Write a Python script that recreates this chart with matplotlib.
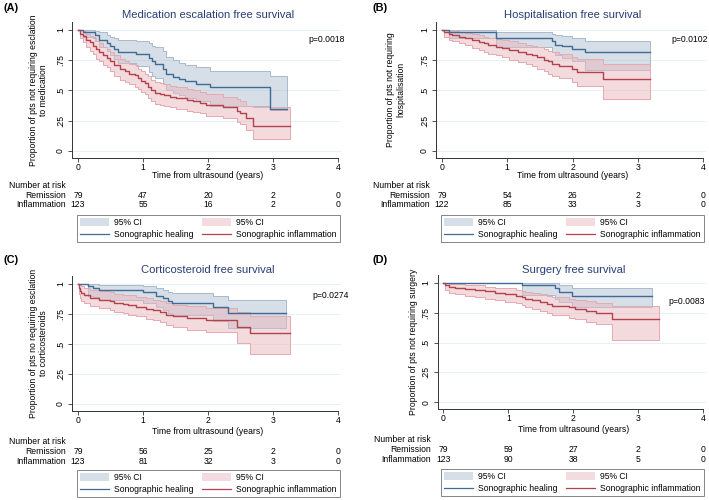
import matplotlib.pyplot as plt
import matplotlib.transforms as mtransforms
from matplotlib.patches import Patch
from matplotlib.lines import Line2D
from matplotlib.colors import to_rgba

plt.rcParams['font.family'] = ['Liberation Sans', 'DejaVu Sans']

W, H = 709, 500

# ---- Panel A: medication escalation ----
A_heal_t = [0, 0.08, 0.26, 0.33, 0.44, 0.49, 0.56, 0.62, 0.90, 1.10, 1.14, 1.18, 1.31, 1.36, 1.46, 1.56, 1.64, 1.82, 2.03, 2.95]
A_heal_s = [1, 0.98, 0.955, 0.92, 0.895, 0.865, 0.84, 0.82, 0.80, 0.765, 0.74, 0.72, 0.68, 0.64, 0.615, 0.595, 0.575, 0.555, 0.53, 0.345]
A_heal_lo = [1, 0.94, 0.91, 0.86, 0.83, 0.79, 0.76, 0.73, 0.70, 0.65, 0.62, 0.60, 0.55, 0.50, 0.48, 0.46, 0.44, 0.41, 0.37, 0.34]
A_heal_hi = [1, 1, 0.995, 0.98, 0.96, 0.945, 0.93, 0.92, 0.91, 0.89, 0.87, 0.86, 0.83, 0.78, 0.75, 0.73, 0.71, 0.69, 0.66, 0.62]
A_heal_end = 3.21
A_infl_t = [0, 0.03, 0.08, 0.13, 0.18, 0.23, 0.28, 0.33, 0.38, 0.44, 0.49, 0.56, 0.64, 0.72, 0.79, 0.87, 0.92, 0.97, 1.03, 1.08,
            1.13, 1.18, 1.26, 1.33, 1.41, 1.51, 1.67, 1.77, 1.87, 1.97, 2.23, 2.44, 2.49, 2.59, 2.69]
A_infl_s = [1, 0.97, 0.95, 0.92, 0.90, 0.87, 0.84, 0.82, 0.79, 0.77, 0.74, 0.71, 0.68, 0.66, 0.64, 0.625, 0.60, 0.58, 0.56, 0.53,
            0.50, 0.48, 0.47, 0.46, 0.45, 0.44, 0.42, 0.41, 0.40, 0.38, 0.36, 0.33, 0.31, 0.27, 0.21]
A_infl_lo = [1, 0.93, 0.90, 0.86, 0.83, 0.80, 0.76, 0.74, 0.71, 0.69, 0.66, 0.62, 0.59, 0.57, 0.55, 0.53, 0.51, 0.49, 0.47, 0.44,
             0.41, 0.39, 0.38, 0.37, 0.36, 0.35, 0.33, 0.32, 0.31, 0.29, 0.27, 0.24, 0.22, 0.17, 0.10]
A_infl_hi = [1, 1, 0.99, 0.97, 0.95, 0.93, 0.91, 0.89, 0.86, 0.84, 0.82, 0.79, 0.76, 0.74, 0.72, 0.71, 0.68, 0.66, 0.64, 0.62,
             0.59, 0.57, 0.56, 0.55, 0.54, 0.53, 0.51, 0.50, 0.49, 0.47, 0.45, 0.43, 0.41, 0.37, 0.36]
A_infl_end = 3.26
A_risk_rem = [79, 47, 20, 2, 0]
A_risk_infl = [123, 55, 16, 2, 0]

# ---- Panel B: hospitalisation ----
B_heal_t = [0, 0.10, 0.82, 1.68, 1.73, 1.84, 1.99, 2.19]
B_heal_s = [1, 0.985, 0.93, 0.905, 0.88, 0.865, 0.845, 0.815]
B_heal_lo = [1, 0.93, 0.86, 0.82, 0.79, 0.77, 0.74, 0.67]
B_heal_hi = [1, 1, 0.98, 0.97, 0.96, 0.95, 0.935, 0.91]
B_heal_end = 3.19
B_infl_t = [0, 0.03, 0.10, 0.15, 0.26, 0.36, 0.46, 0.56, 0.64, 0.71, 0.82, 0.92, 1.02, 1.17, 1.28, 1.38, 1.45, 1.56, 1.63, 1.68,
            1.79, 1.99, 2.07, 2.47]
B_infl_s = [1, 0.98, 0.965, 0.955, 0.945, 0.93, 0.915, 0.90, 0.89, 0.875, 0.86, 0.85, 0.835, 0.82, 0.805, 0.79, 0.775, 0.755, 0.74, 0.72,
            0.705, 0.68, 0.655, 0.595]
B_infl_lo = [1, 0.94, 0.92, 0.905, 0.89, 0.875, 0.855, 0.835, 0.82, 0.805, 0.79, 0.775, 0.755, 0.735, 0.72, 0.70, 0.68, 0.66, 0.64, 0.62,
             0.60, 0.57, 0.54, 0.43]
B_infl_hi = [1, 1, 0.995, 0.99, 0.985, 0.975, 0.965, 0.955, 0.945, 0.935, 0.925, 0.915, 0.905, 0.895, 0.88, 0.87, 0.86, 0.845, 0.83, 0.815,
             0.80, 0.78, 0.76, 0.72]
B_infl_end = 3.19
B_risk_rem = [79, 54, 26, 2, 0]
B_risk_infl = [122, 85, 33, 3, 0]

# ---- Panel C: corticosteroids ----
C_heal_t = [0, 0.15, 0.23, 0.33, 1.00, 1.20, 1.31, 1.38, 1.44, 2.08, 2.31]
C_heal_s = [1, 0.985, 0.97, 0.95, 0.93, 0.90, 0.88, 0.86, 0.845, 0.805, 0.76]
C_heal_lo = [1, 0.90, 0.89, 0.87, 0.84, 0.81, 0.78, 0.76, 0.74, 0.69, 0.63]
C_heal_hi = [1, 1, 1, 0.99, 0.98, 0.965, 0.95, 0.935, 0.925, 0.90, 0.87]
C_heal_end = 3.20
C_infl_t = [0, 0.01, 0.03, 0.05, 0.10, 0.18, 0.33, 0.49, 0.56, 0.69, 0.77, 0.90, 1.05, 1.15, 1.26, 1.36, 1.46, 1.67, 1.97, 2.44, 2.64]
C_infl_s = [1, 0.97, 0.94, 0.925, 0.905, 0.885, 0.87, 0.86, 0.845, 0.835, 0.825, 0.81, 0.795, 0.785, 0.765, 0.745, 0.73, 0.715, 0.70, 0.645, 0.59]
C_infl_lo = [1, 0.92, 0.88, 0.86, 0.84, 0.82, 0.80, 0.785, 0.77, 0.755, 0.745, 0.73, 0.71, 0.70, 0.68, 0.66, 0.64, 0.62, 0.60, 0.51, 0.42]
C_infl_hi = [1, 1, 0.99, 0.98, 0.965, 0.95, 0.94, 0.93, 0.92, 0.91, 0.905, 0.89, 0.88, 0.87, 0.855, 0.84, 0.825, 0.815, 0.80, 0.77, 0.73]
C_infl_end = 3.26
C_risk_rem = [79, 56, 25, 2, 0]
C_risk_infl = [123, 81, 32, 3, 0]

# ---- Panel D: surgery ----
D_heal_t = [0, 1.21, 1.72, 1.78, 1.98]
D_heal_s = [1, 0.985, 0.955, 0.925, 0.89]
D_heal_lo = [1, 0.90, 0.87, 0.84, 0.80]
D_heal_hi = [1, 1, 0.998, 0.985, 0.96]
D_heal_end = 3.21
D_infl_t = [0, 0.03, 0.08, 0.18, 0.33, 0.49, 0.64, 0.80, 0.95, 1.11, 1.21, 1.26, 1.36, 1.49, 1.59, 1.67, 1.93, 2.03, 2.19, 2.34, 2.60]
D_infl_s = [1, 0.98, 0.97, 0.96, 0.95, 0.94, 0.93, 0.915, 0.905, 0.895, 0.88, 0.87, 0.855, 0.84, 0.825, 0.81, 0.795, 0.78, 0.765, 0.75, 0.695]
D_infl_lo = [1, 0.94, 0.92, 0.91, 0.895, 0.885, 0.87, 0.855, 0.845, 0.83, 0.815, 0.80, 0.785, 0.765, 0.75, 0.73, 0.71, 0.695, 0.675, 0.655, 0.52]
D_infl_hi = [1, 1, 0.995, 0.99, 0.985, 0.98, 0.97, 0.96, 0.955, 0.945, 0.935, 0.925, 0.915, 0.905, 0.895, 0.88, 0.87, 0.86, 0.85, 0.835, 0.81]
D_infl_end = 3.32
D_risk_rem = [79, 59, 27, 2, 0]
D_risk_infl = [123, 90, 38, 5, 0]

TITLES = ["Medication escalation free survival", "Hospitalisation free survival",
          "Corticosteroid free survival", "Surgery free survival"]
YLABELS = ["Proportion of pts not requiring esclation\nto medication",
           "Proportion of pts not requiring\nhospitalisation",
           "Proportion of pts no requiring esclation\nto corticosteroids",
           "Proportion of pts not requiring surgery"]
PVALS = ["p=0.0018", "p=0.0102", "p=0.0274", "p=0.0083"]
LETTERS = ["(A)", "(B)", "(C)", "(D)"]
XTICKS = [0, 1, 2, 3, 4]
YTICKS = [0, 0.25, 0.5, 0.75, 1]
YTICKLABELS = ["0", ".25", ".5", ".75", "1"]

BLUE = '#416a95'
RED = '#b2424d'
BLUE_EDGE = '#a8bacf'
RED_EDGE = '#e4aab1'
BLUE_FILL = to_rgba('#aebfd3', 0.5)
RED_FILL = to_rgba('#e8b7bd', 0.5)
TITLE_C = '#283e74'
FS = 6.2

fig = plt.figure(figsize=(W / 100, H / 100), dpi=100)
fig.patch.set_facecolor('white')


def fx(x):
    return x / W


def fy(y):
    return 1 - y / H


def draw_curve(ax, t, s, lo, hi, end, line_c, edge_c, fill_c):
    tt = t + [end]
    ax.fill_between(tt, lo + [lo[-1]], hi + [hi[-1]], step='post',
                    facecolor=fill_c, edgecolor=edge_c, linewidth=0.7, zorder=2)
    ax.step(tt, s + [s[-1]], where='post', color=line_c, linewidth=1.0, zorder=3)


def panel(i, left, bottom, ppu_x, ppu_y, heal, infl, risk_rem, risk_infl,
          letter_xy, title_y, ylab_x, pval_xy, row_y, leg_xy):
    x0, x1 = -0.092, 4.04
    y0, y1 = -0.058, 1.07
    w = (x1 - x0) * ppu_x
    h = (y1 - y0) * ppu_y
    ax = fig.add_axes([fx(left), fy(bottom), w / W, h / H])
    ax.set_xlim(x0, x1)
    ax.set_ylim(y0, y1)

    for yv in YTICKS:
        ax.axhline(yv, color='#e6edf1', linewidth=0.6, zorder=1)

    draw_curve(ax, *heal, BLUE, BLUE_EDGE, BLUE_FILL)
    draw_curve(ax, *infl, RED, RED_EDGE, RED_FILL)

    for side in ['top', 'right']:
        ax.spines[side].set_visible(False)
    for side in ['left', 'bottom']:
        ax.spines[side].set_color('#333333')
        ax.spines[side].set_linewidth(0.7)
    ax.spines['bottom'].set_bounds(x0, 4)

    ax.set_xticks(XTICKS)
    ax.set_xticklabels([str(v) for v in XTICKS])
    ax.set_yticks(YTICKS)
    ax.set_yticklabels(YTICKLABELS, rotation=90, va='center')
    ax.tick_params(axis='both', labelsize=FS, length=3, width=0.6, color='#333333')
    ax.tick_params(axis='x', pad=0.5)
    ax.tick_params(axis='y', pad=2)

    ax.set_ylabel(YLABELS[i], fontsize=FS, linespacing=1.15)
    ax.yaxis.set_label_coords((ylab_x - left) / w, 0.5)

    # letter, title, p-value
    fig.text(fx(letter_xy[0]), fy(letter_xy[1]), LETTERS[i], fontsize=7.8,
             fontweight='bold', ha='left', va='center')
    tr = mtransforms.blended_transform_factory(ax.transData, fig.transFigure)
    ax.text(2, fy(title_y), TITLES[i], transform=tr, fontsize=8.1, color=TITLE_C,
            ha='center', va='center')
    fig.text(fx(pval_xy[0]), fy(pval_xy[1]), PVALS[i], fontsize=FS,
             ha='right', va='center')

    # x title and number-at-risk table
    ax.text(2, fy(row_y[0]), "Time from ultrasound (years)", transform=tr,
            fontsize=FS, ha='center', va='center')
    ax.text(-0.19, fy(row_y[1]), "Number at risk", transform=tr,
            fontsize=FS, ha='right', va='center')
    ax.text(-0.19, fy(row_y[2]), "Remission", transform=tr,
            fontsize=FS, ha='right', va='center')
    ax.text(-0.19, fy(row_y[3]), "Inflammation", transform=tr,
            fontsize=FS, ha='right', va='center')
    for xv, r1, r2 in zip(XTICKS, risk_rem, risk_infl):
        ax.text(xv, fy(row_y[2]), str(r1), transform=tr, fontsize=FS,
                ha='center', va='center')
        ax.text(xv, fy(row_y[3]), str(r2), transform=tr, fontsize=FS,
                ha='center', va='center')

    handles = [Patch(facecolor='#d6dee8', edgecolor='none'),
               Line2D([], [], color=BLUE, linewidth=0.9),
               Patch(facecolor='#f3dcdf', edgecolor='none'),
               Line2D([], [], color=RED, linewidth=0.9)]
    labels = ["95% CI", "Sonographic healing", "95% CI", "Sonographic inflammation"]
    leg = fig.legend(handles, labels, ncol=2, loc='upper left',
                     bbox_to_anchor=(fx(leg_xy[0]), fy(leg_xy[1])),
                     bbox_transform=fig.transFigure, borderaxespad=0,
                     fontsize=FS, frameon=True, fancybox=False,
                     handlelength=3.4, handleheight=1.0, handletextpad=0.6,
                     columnspacing=0.9, labelspacing=0.35, borderpad=0.35)
    leg.get_frame().set_edgecolor('#666666')
    leg.get_frame().set_linewidth(0.7)
    return ax


panel(0, 72, 158, 65.0, 121.0,
      (A_heal_t, A_heal_s, A_heal_lo, A_heal_hi, A_heal_end),
      (A_infl_t, A_infl_s, A_infl_lo, A_infl_hi, A_infl_end),
      A_risk_rem, A_risk_infl,
      (3, 8), 15, 48, (345, 39), (176, 186, 196, 205), (77, 215))

panel(1, 436, 158, 65.25, 121.0,
      (B_heal_t, B_heal_s, B_heal_lo, B_heal_hi, B_heal_end),
      (B_infl_t, B_infl_s, B_infl_lo, B_infl_hi, B_infl_end),
      B_risk_rem, B_risk_infl,
      (373, 8), 15, 405, (708, 40), (176, 186, 196, 205), (441, 215))

panel(2, 72, 411, 65.0, 120.0,
      (C_heal_t, C_heal_s, C_heal_lo, C_heal_hi, C_heal_end),
      (C_infl_t, C_infl_s, C_infl_lo, C_infl_hi, C_infl_end),
      C_risk_rem, C_risk_infl,
      (3, 260), 270, 48, (349, 296), (431, 442, 452, 462), (77, 470))

panel(3, 437.5, 409, 65.0, 119.0,
      (D_heal_t, D_heal_s, D_heal_lo, D_heal_hi, D_heal_end),
      (D_infl_t, D_infl_s, D_infl_lo, D_infl_hi, D_infl_end),
      D_risk_rem, D_risk_infl,
      (373, 260), 270, 418, (705, 301), (429, 440, 450, 460), (441, 469))

fig.savefig("out.png", dpi=100)
